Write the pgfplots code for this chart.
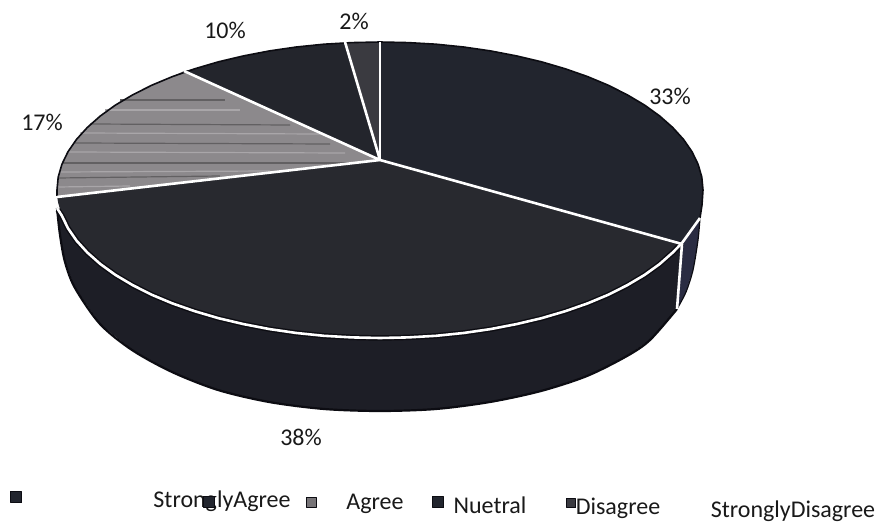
\documentclass[border=0pt]{standalone}
\usepackage{pgfplots}
\pgfplotsset{compat=1.18}
\usepackage{fontspec}
\setmainfont{Carlito}
\definecolor{sa}{HTML}{22252E}
\definecolor{ne}{HTML}{28292F}
\definecolor{ag}{HTML}{8C898C}
\definecolor{di}{HTML}{23252C}
\definecolor{sd}{HTML}{3A3A40}
\definecolor{wall}{HTML}{1D1E26}
\definecolor{wallb}{HTML}{2A2C42}
\definecolor{edge}{HTML}{0C0C12}
\tikzset{lab/.style={font=\fontsize{24}{28}\selectfont, text=black!90, inner sep=0pt},
 sdark/.style={draw=ag!70!black, line width=1.2pt},
 slight/.style={draw=ag!75!white, line width=1.2pt}}
\begin{document}
\begin{tikzpicture}
\begin{axis}[
  scale only axis, width=881pt, height=526pt,
  xmin=0, xmax=881, ymin=0, ymax=526, y dir=reverse,
  axis lines=none, clip=true,
  every axis plot/.append style={line join=round},
]
% side wall, large part
\addplot[fill=wall, draw=none] coordinates {
(57,208)(60,235)(65,262)(75,288)(100,324)(132,350)(172,372)(218,390)(269,402)(324,409)(380,411)(436,409)(490,402)(541,391)(587,376)(627,356)(650,340)(677,309)(682,243)(380,300)} -- cycle;
\addplot[draw=edge, line width=2.2pt, smooth] coordinates {
(57,208)(60,235)(65,262)(75,288)(100,324)(132,350)(172,372)(218,390)(269,402)(324,409)(380,411)(436,409)(490,402)(541,391)(587,376)(627,356)(650,340)(677,309)};
% side wall, small part
\addplot[fill=wallb, draw=none] coordinates {
(682,243)(700,218)(698,240)(693,270)(686,292)(677,309)} -- cycle;
\addplot[draw=edge, line width=1.2pt, smooth] coordinates {(700,218)(698,240)(693,270)(686,292)(677,309)};
% top: 33 %
\addplot[fill=sa, draw=none] coordinates {
(380,160)(380,42)(408.1,42.6)(436.1,44.2)(463.6,47)(490.5,50.9)(516.5,55.9)(541.5,61.8)(565.3,68.8)(587.6,76.6)(608.4,85.3)(627.4,94.9)(644.6,105.1)(659.7,116)(672.7,127.5)(683.5,139.4)(692,151.7)(698.1,164.3)(701.8,177.1)(703,190)(702,205)(700,218)(692,228)(682,243)} -- cycle;
% top: 38 %
\addplot[fill=ne, draw=none] coordinates {
(380,160)(682,243)(672.7,252.5)(659.7,264)(644.6,274.9)(627.4,285.1)(608.4,294.7)(587.6,303.4)(565.3,311.2)(541.5,318.2)(516.5,324.1)(490.5,329.1)(463.6,333)(436.1,335.8)(408.1,337.4)(380,338)(351.9,337.4)(323.9,335.8)(296.4,333)(269.5,329.1)(243.5,324.1)(218.5,318.2)(194.7,311.2)(172.4,303.4)(151.6,294.7)(132.6,285.1)(115.4,274.9)(100.3,264)(87.3,252.5)(76.5,240.6)(68,228.3)(61.9,215.7)(58.2,202.9)(57,196)} -- cycle;
% top: 17 %
\addplot[fill=ag, draw=none] coordinates {
(380,160)(57,196)(57,190)(58.2,177.1)(61.9,164.3)(68,151.7)(76.5,139.4)(87.3,127.5)(100.3,116)(115.4,105.1)(132.6,94.9)(151.6,85.3)(172.4,76.6)(184,71)} -- cycle;
% streaks of the grey slice
\addplot[sdark] coordinates {(120,100)(225,100)};
\addplot[slight] coordinates {(105,110)(240,110)};
\addplot[sdark] coordinates {(90,124)(290,125)};
\addplot[slight] coordinates {(80,133)(320,134)};
\addplot[sdark] coordinates {(75,143)(330,144)};
\addplot[slight] coordinates {(68,152)(345,153)};
\addplot[sdark] coordinates {(62,163)(350,163)};
\addplot[slight] coordinates {(60,172)(270,171)};
\addplot[sdark] coordinates {(58,178)(220,176)};
\addplot[slight] coordinates {(58,187)(130,186)};
% top: 10 %
\addplot[fill=di, draw=none] coordinates {
(380,160)(184,71)(194.7,68.8)(218.5,61.8)(243.5,55.9)(269.5,50.9)(296.4,47)(323.9,44.2)(345,42.8)} -- cycle;
% top: 2 %
\addplot[fill=sd, draw=none] coordinates {
(380,160)(345,42.8)(351.9,42.6)(380,42)} -- cycle;
% outline of the top's upper rim
\addplot[draw=edge, line width=1.6pt] coordinates {
(57,196)(57,190)(58.2,177.1)(61.9,164.3)(68,151.7)(76.5,139.4)(87.3,127.5)(100.3,116)(115.4,105.1)(132.6,94.9)(151.6,85.3)(172.4,76.6)(194.7,68.8)(218.5,61.8)(243.5,55.9)(269.5,50.9)(296.4,47)(323.9,44.2)(351.9,42.6)(380,42)(408.1,42.6)(436.1,44.2)(463.6,47)(490.5,50.9)(516.5,55.9)(541.5,61.8)(565.3,68.8)(587.6,76.6)(608.4,85.3)(627.4,94.9)(644.6,105.1)(659.7,116)(672.7,127.5)(683.5,139.4)(692,151.7)(698.1,164.3)(701.8,177.1)(703,190)(702,205)(700,218)};
% rim, front
\addplot[draw=edge, line width=5.5pt] coordinates {
(58,210)(61.9,215.7)(68,228.3)(76.5,240.6)(87.3,252.5)(100.3,264)(115.4,274.9)(132.6,285.1)(151.6,294.7)(172.4,303.4)(194.7,311.2)(218.5,318.2)(243.5,324.1)(269.5,329.1)(296.4,333)(323.9,335.8)(351.9,337.4)(380,338)(408.1,337.4)(436.1,335.8)(463.6,333)(490.5,329.1)(516.5,324.1)(541.5,318.2)(565.3,311.2)(587.6,303.4)(608.4,294.7)(627.4,285.1)(644.6,274.9)(659.7,264)(672.7,252.5)(682,243)};
\addplot[draw=white, line width=2.6pt] coordinates {
(57,208)(61.9,215.7)(68,228.3)(76.5,240.6)(87.3,252.5)(100.3,264)(115.4,274.9)(132.6,285.1)(151.6,294.7)(172.4,303.4)(194.7,311.2)(218.5,318.2)(243.5,324.1)(269.5,329.1)(296.4,333)(323.9,335.8)(351.9,337.4)(380,338)(408.1,337.4)(436.1,335.8)(463.6,333)(490.5,329.1)(516.5,324.1)(541.5,318.2)(565.3,311.2)(587.6,303.4)(608.4,294.7)(627.4,285.1)(644.6,274.9)(659.7,264)(672.7,252.5)(682,243)(700,218)};
% spokes
\addplot[draw=white, line width=2.6pt] coordinates {(682,244)(677,309)};
\addplot[draw=white, line width=2.6pt] coordinates {(682,244)(380,160)(57,197)};
\addplot[draw=white, line width=2.6pt] coordinates {(184,71)(380,160)(345,42)};
\addplot[draw=white, line width=2.6pt] coordinates {(380,42)(380,160)};
% legend squares
\addplot[only marks, mark=square*, mark size=5.5pt, mark options={fill=sa, draw=edge}] coordinates {(16,497)(209,502)(438,502)};
\addplot[only marks, mark=square*, mark size=5pt, mark options={fill=ag!85!black, draw=edge}] coordinates {(311,502)};
\addplot[only marks, mark=square*, mark size=4.5pt, mark options={fill=sd, draw=edge}] coordinates {(571,503)};
% labels
\node[lab] at (axis cs:670,96) {33\%};
\node[lab] at (axis cs:225,30) {10\%};
\node[lab] at (axis cs:354,21) {2\%};
\node[lab] at (axis cs:42,122) {17\%};
\node[lab] at (axis cs:301,437) {38\%};
\node[lab] at (axis cs:222,501) {StronglyAgree};
\node[lab] at (axis cs:375,504) {Agree};
\node[lab] at (axis cs:490,505) {Nuetral};
\node[lab] at (axis cs:618,508) {Disagree};
\node[lab] at (axis cs:793,511) {StronglyDisagree};
\end{axis}
\pgfresetboundingbox
\path[use as bounding box] (0,0) rectangle (881pt,526pt);
\end{tikzpicture}
\end{document}
